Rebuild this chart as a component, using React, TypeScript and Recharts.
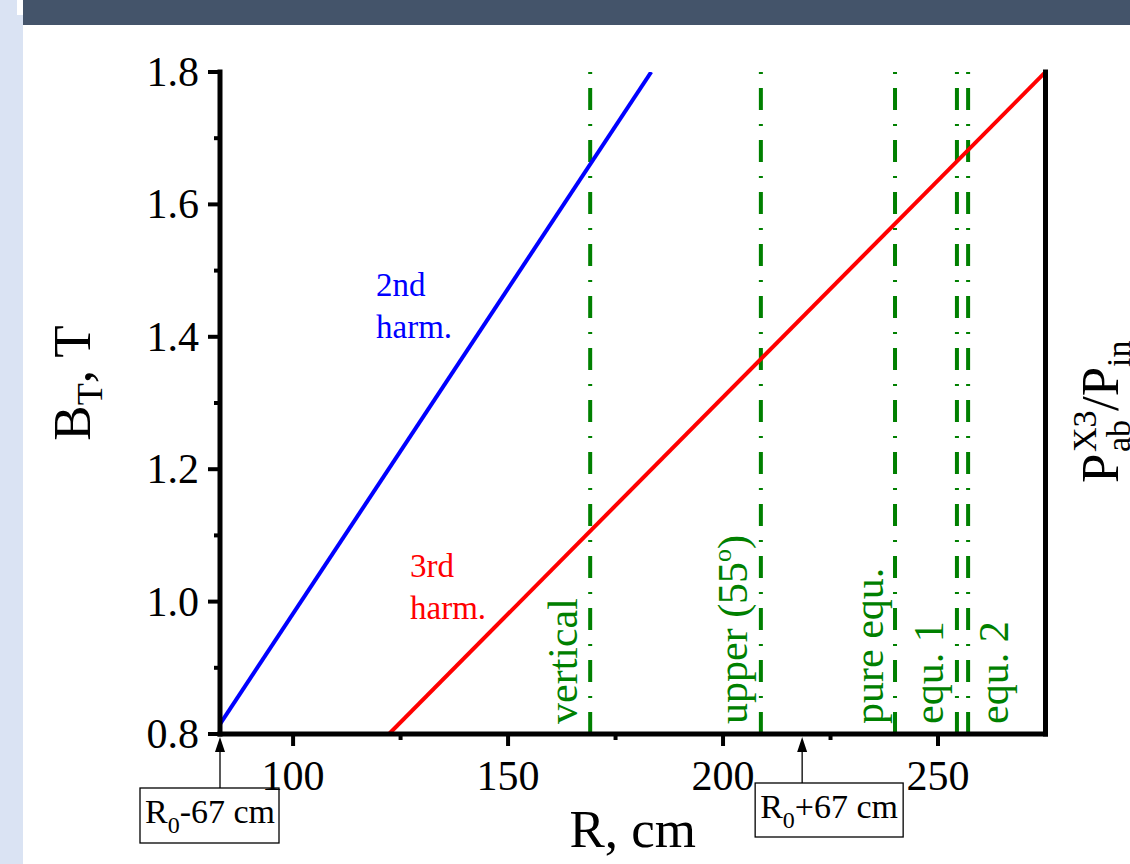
import React from "react";
import {
  LineChart,
  Line,
  XAxis,
  YAxis,
  ReferenceLine,
  ReferenceDot,
} from "recharts";

// resonance lines: B_T needed vs. major radius R
const secondHarm = [
  { R: 83, B: 0.815 },
  { R: 183.3, B: 1.8 },
];
const thirdHarm = [
  { R: 122.3, B: 0.8 },
  { R: 275, B: 1.8 },
];

// launch positions (green dash-dot lines)
const launchR = [169.1, 208.8, 240.0, 254.4, 257.0];
const launchLabels = ["vertical", "upper (55", "pure equ.", "equ. 1", "equ. 2"];

// plasma edge markers
const edgeR = [83, 218.4];
const edgeLabels = ["-67 cm", "+67 cm"];

const xDomain = [83, 275];
const yDomain = [0.8, 1.8];
const xTicks = [100, 125, 150, 175, 200, 225, 250];
const xMajor = [100, 150, 200, 250];
const yTicks = [0.8, 0.9, 1.0, 1.1, 1.2, 1.3, 1.4, 1.5, 1.6, 1.7, 1.8];
const yMajor = [0.8, 1.0, 1.2, 1.4, 1.6, 1.8];

const FONT = "'Liberation Serif', 'Times New Roman', serif";
const GREEN = "#008000";

// label placement relative to each green line (baseline offset in px)
const launchDx = [-13, -14, -12, -14, 40];
// box placement relative to each edge arrow
const edgeBox = [
  { dx: -80, top: 54, w: 139, h: 55 },
  { dx: -47, top: 49, w: 148, h: 54 },
];

const axisStyle = { stroke: "#000", strokeWidth: 5, strokeLinecap: "square" as const };

function XTick(props: any) {
  const { x, y, payload } = props;
  const major = xMajor.includes(payload.value);
  return (
    <g>
      <line x1={x} y1={y} x2={x} y2={y + (major ? 12 : 6)} stroke="#000" strokeWidth={4} />
      {major && (
        <text x={x} y={y + 56} textAnchor="middle" fontSize={42} fontFamily={FONT} fill="#000">
          {payload.value}
        </text>
      )}
    </g>
  );
}

function YTick(props: any) {
  const { x, y, payload } = props;
  const major = yMajor.some((v) => Math.abs(v - payload.value) < 1e-6);
  return (
    <g>
      <line x1={x} y1={y} x2={x - (major ? 12 : 6)} y2={y} stroke="#000" strokeWidth={4} />
      {major && (
        <text x={x - 21} y={y} dy={14} textAnchor="end" fontSize={42} fontFamily={FONT} fill="#000">
          {payload.value.toFixed(1)}
        </text>
      )}
    </g>
  );
}

function launchLabel(i: number) {
  return (p: any) => {
    const vb = p.viewBox;
    const x = vb.x + launchDx[i];
    const y = vb.y + vb.height - 10;
    return (
      <text
        transform={`translate(${x},${y}) rotate(-90)`}
        fontSize={42}
        fontFamily={FONT}
        fill={GREEN}
      >
        {launchLabels[i]}
        {i === 1 && (
          <>
            <tspan fontSize={26} dy={-16}>
              o
            </tspan>
            <tspan dy={16}>)</tspan>
          </>
        )}
      </text>
    );
  };
}

function edgeLabel(i: number) {
  return (p: any) => {
    const vb = p.viewBox;
    const ax = vb.x;
    const ay = vb.y + vb.height + 3;
    const b = edgeBox[i];
    const top = vb.y + vb.height + b.top;
    const left = ax + b.dx;
    return (
      <g>
        <line x1={ax} y1={top} x2={ax} y2={ay + 12} stroke="#000" strokeWidth={1.3} />
        <path d={`M${ax},${ay} L${ax - 5},${ay + 15} L${ax + 5},${ay + 15} Z`} fill="#000" />
        <rect x={left} y={top} width={b.w} height={b.h} fill="#fff" stroke="#000" strokeWidth={1.3} />
        <text x={left + 5} y={top + 35} fontSize={34} fontFamily={FONT} fill="#000">
          R
          <tspan fontSize={24} dy={10}>
            0
          </tspan>
          <tspan dy={-10}>{edgeLabels[i]}</tspan>
        </text>
      </g>
    );
  };
}

function harmLabel(lines: string[], color: string) {
  return (p: any) => (
    <text x={p.cx} y={p.cy} fontSize={33} fontFamily={FONT} fill={color}>
      <tspan x={p.cx}>{lines[0]}</tspan>
      <tspan x={p.cx} dy={42}>
        {lines[1]}
      </tspan>
    </text>
  );
}

export default function App() {
  return (
    <div
      style={{
        position: "fixed",
        left: 0,
        top: 0,
        width: 1130,
        height: 864,
        background: "#fff",
        overflow: "hidden",
      }}
    >
      <div style={{ position: "absolute", left: 0, top: 0, width: 23, height: 864, background: "#dae3f3" }} />
      <div style={{ position: "absolute", left: 17, top: 0, width: 6, height: 15, background: "#fff" }} />
      <div style={{ position: "absolute", left: 23, top: 0, width: 1107, height: 25, background: "#44546a" }} />
      <div style={{ position: "absolute", left: 0, top: 0 }}>
        <LineChart width={1130} height={864} margin={{ top: 72, right: 0, bottom: 0, left: 0 }}>
          <XAxis
            dataKey="R"
            type="number"
            domain={xDomain}
            ticks={xTicks}
            interval={0}
            allowDataOverflow
            height={130}
            tickSize={0}
            tickMargin={0}
            tickLine={false}
            tick={<XTick />}
            axisLine={axisStyle}
            label={{
              content: (p: any) => (
                <text
                  x={p.viewBox.x + p.viewBox.width / 2}
                  y={p.viewBox.y + 113}
                  textAnchor="middle"
                  fontSize={53}
                  fontFamily={FONT}
                  fill="#000"
                >
                  R, cm
                </text>
              ),
            }}
          />
          <XAxis
            xAxisId="top"
            orientation="top"
            type="number"
            domain={xDomain}
            height={0}
            tick={false}
            tickLine={false}
            axisLine={axisStyle}
          />
          <YAxis
            type="number"
            domain={yDomain}
            ticks={yTicks}
            interval={0}
            allowDataOverflow
            width={220}
            tickSize={0}
            tickMargin={0}
            tickLine={false}
            tick={<YTick />}
            axisLine={axisStyle}
            label={{
              content: (p: any) => (
                <text
                  transform={`translate(${p.viewBox.x + 90},${p.viewBox.y + p.viewBox.height / 2 - 20}) rotate(-90)`}
                  textAnchor="middle"
                  fontSize={53}
                  fontFamily={FONT}
                  fill="#000"
                >
                  B
                  <tspan fontSize={36} dy={12}>
                    T
                  </tspan>
                  <tspan dy={-12}>, T</tspan>
                </text>
              ),
            }}
          />
          <YAxis
            yAxisId="right"
            orientation="right"
            type="number"
            domain={yDomain}
            width={84.5}
            tick={false}
            tickLine={false}
            axisLine={axisStyle}
            label={{
              content: (p: any) => (
                <g
                  transform={`translate(${p.viewBox.x + 72},${p.viewBox.y + 411}) rotate(-90)`}
                  fontFamily={FONT}
                  fill="#000"
                >
                  <text x={0} y={0} fontSize={53}>
                    P
                  </text>
                  <text x={31} y={-22} fontSize={34}>
                    X3
                  </text>
                  <text x={31} y={12} fontSize={34}>
                    ab
                  </text>
                  <text x={72} y={0} fontSize={53}>
                    /P
                  </text>
                  <text x={116} y={12} fontSize={34}>
                    in
                  </text>
                </g>
              ),
            }}
          />

          {launchR.map((r, i) => (
            <ReferenceLine
              key={"l" + i}
              x={r}
              stroke={GREEN}
              strokeWidth={4}
              strokeDasharray="22 14 2 14"
              label={{ content: launchLabel(i) }}
            />
          ))}

          <Line
            data={secondHarm}
            dataKey="B"
            type="linear"
            stroke="#0000ff"
            strokeWidth={4}
            dot={false}
            isAnimationActive={false}
          />
          <Line
            data={thirdHarm}
            dataKey="B"
            type="linear"
            stroke="#ff0000"
            strokeWidth={4}
            dot={false}
            isAnimationActive={false}
          />

          <ReferenceDot x={119.3} y={1.4616} r={0} shape={harmLabel(["2nd", "harm."], "#0000ff")} />
          <ReferenceDot x={127.2} y={1.037} r={0} shape={harmLabel(["3rd", "harm."], "#ff0000")} />

          {edgeR.map((r, i) => (
            <ReferenceLine
              key={"e" + i}
              x={r}
              stroke="none"
              ifOverflow="visible"
              label={{ content: edgeLabel(i) }}
            />
          ))}
        </LineChart>
      </div>
    </div>
  );
}
